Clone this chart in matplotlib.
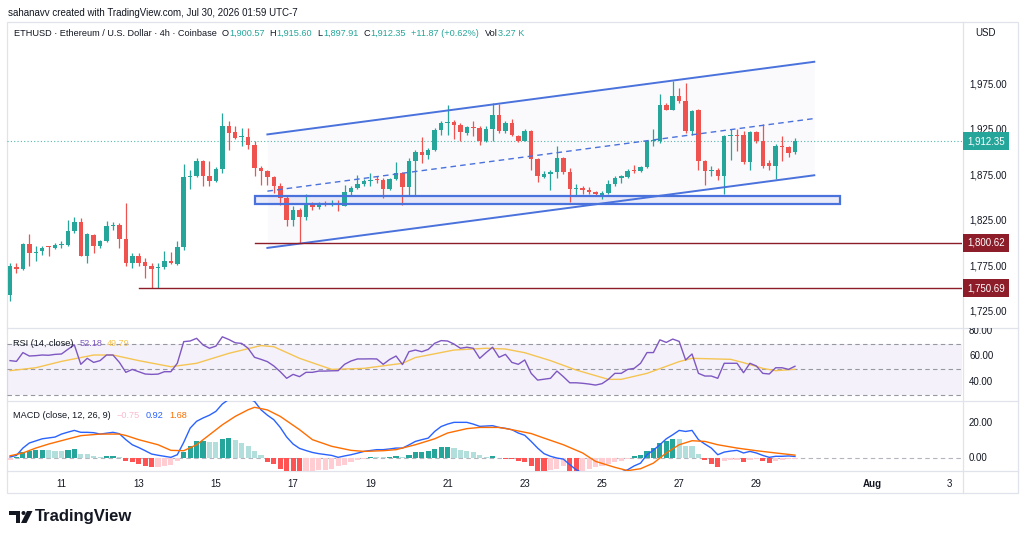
import numpy as np
import pandas as pd
import matplotlib
matplotlib.use("Agg")
import matplotlib.pyplot as plt
from matplotlib.patches import Rectangle, Polygon, Circle
from matplotlib.transforms import blended_transform_factory as blend, Bbox

plt.rcParams["font.family"] = ["Liberation Sans", "DejaVu Sans"]

W, H = 1024, 539

# ETHUSD 4h candles (Coinbase)
start = pd.Timestamp("2026-07-09 16:00")
opens = [
    1743.4, 1773.6, 1771.7, 1799.7, 1789.4, 1791.2, 1796.7, 1794.9, 1798.6, 1798.6,
    1813.3, 1823.2, 1786.4, 1809.6, 1796.7, 1802.2, 1819.5, 1819.9, 1805.2, 1778.3,
    1785.7, 1779.1, 1774.7, 1772.8, 1773.6, 1780.9, 1777.6, 1796.0, 1873.2, 1874.7,
    1890.5, 1874.7, 1868.4, 1882.4, 1929.8, 1922.4, 1916.9, 1917.3, 1908.1, 1883.1,
    1880.2, 1873.2, 1862.9, 1850.0, 1826.1, 1837.2, 1829.1, 1842.7, 1840.1, 1844.5,
    1842.7, 1843.4, 1841.6, 1856.6, 1861.1, 1865.5, 1868.4, 1871.0, 1869.5, 1860.0,
    1871.0, 1877.6, 1861.8, 1891.2, 1900.4, 1897.8, 1903.3, 1925.4, 1932.4, 1933.8,
    1930.2, 1921.7, 1928.3, 1926.9, 1912.5, 1926.1, 1941.9, 1923.6, 1932.7, 1918.7,
    1913.2, 1924.2, 1893.0, 1873.1, 1876.4, 1878.3, 1894.1, 1878.3, 1859.9, 1861.0,
    1859.2, 1856.6, 1853.7, 1855.5, 1865.4, 1872.0, 1872.8, 1881.2, 1880.1, 1883.8,
    1913.2, 1912.5, 1952.2, 1947.4, 1962.1, 1957.3, 1924.2, 1946.7, 1890.4, 1879.4,
    1881.2, 1873.9, 1918.0, 1919.8, 1919.8, 1889.3, 1922.4, 1912.5, 1888.6, 1884.9,
    1907.7, 1906.2, 1900.57]
highs = [
    1778.3, 1778.3, 1800.4, 1810.7, 1796.7, 1796.7, 1797.5, 1800.4, 1802.2, 1826.1,
    1828.7, 1828.0, 1811.4, 1810.7, 1804.1, 1825.0, 1823.2, 1822.5, 1844.5, 1789.4,
    1789.4, 1783.9, 1778.3, 1778.3, 1792.0, 1790.1, 1802.2, 1887.9, 1881.3, 1894.1,
    1892.3, 1890.5, 1884.2, 1943.8, 1934.6, 1929.1, 1927.2, 1927.2, 1912.5, 1885.0,
    1881.3, 1874.7, 1866.6, 1851.9, 1840.8, 1839.0, 1854.8, 1845.2, 1845.6, 1847.1,
    1848.2, 1848.2, 1864.7, 1863.6, 1875.8, 1871.0, 1877.6, 1874.7, 1872.1, 1872.1,
    1889.4, 1878.3, 1894.1, 1902.6, 1916.9, 1905.2, 1927.2, 1934.6, 1951.9, 1936.4,
    1932.7, 1929.8, 1934.6, 1929.8, 1929.1, 1954.1, 1953.0, 1934.6, 1937.2, 1919.8,
    1926.1, 1925.3, 1894.1, 1879.4, 1881.2, 1907.0, 1895.2, 1883.1, 1865.8, 1862.8,
    1862.1, 1858.1, 1857.3, 1870.2, 1873.9, 1875.7, 1882.0, 1886.7, 1884.9, 1914.3,
    1926.1, 1965.0, 1954.7, 1978.6, 1971.3, 1976.1, 1947.4, 1948.1, 1892.3, 1884.9,
    1883.1, 1919.8, 1926.1, 1926.1, 1923.5, 1923.5, 1923.5, 1931.6, 1892.3, 1909.9,
    1918.0, 1907.7, 1915.60]
lows = [
    1736.1, 1767.3, 1771.0, 1774.7, 1780.2, 1787.5, 1785.7, 1793.8, 1794.9, 1797.5,
    1811.4, 1785.7, 1778.3, 1789.4, 1794.9, 1801.1, 1815.1, 1794.9, 1774.7, 1772.8,
    1774.7, 1761.8, 1750.7, 1750.8, 1772.1, 1777.6, 1776.5, 1793.1, 1860.0, 1873.2,
    1863.6, 1862.9, 1867.3, 1877.6, 1902.6, 1914.4, 1907.0, 1904.1, 1873.9, 1864.7,
    1864.7, 1855.5, 1842.7, 1818.8, 1818.8, 1800.6, 1825.4, 1837.2, 1838.3, 1840.8,
    1840.8, 1835.3, 1840.8, 1853.7, 1860.0, 1863.6, 1862.9, 1866.6, 1850.0, 1859.2,
    1870.2, 1842.7, 1852.6, 1852.6, 1888.6, 1893.0, 1901.5, 1919.9, 1919.9, 1914.4,
    1912.5, 1919.9, 1918.0, 1908.8, 1911.4, 1912.5, 1921.7, 1921.7, 1918.0, 1911.4,
    1912.5, 1881.2, 1867.3, 1872.0, 1858.4, 1872.0, 1876.8, 1845.2, 1852.5, 1854.8,
    1854.8, 1852.5, 1848.9, 1854.8, 1863.6, 1866.5, 1871.7, 1877.5, 1878.6, 1882.7,
    1907.0, 1910.6, 1946.7, 1946.7, 1954.7, 1921.7, 1919.8, 1881.2, 1864.7, 1874.6,
    1869.5, 1854.8, 1891.5, 1901.4, 1887.8, 1881.2, 1910.6, 1883.1, 1881.2, 1871.0,
    1890.4, 1895.2, 1897.91]
closes = [
    1774.7, 1771.7, 1799.7, 1789.4, 1790.5, 1794.9, 1795.6, 1798.6, 1799.7, 1813.3,
    1823.2, 1786.4, 1810.7, 1797.5, 1802.2, 1819.5, 1820.6, 1804.8, 1778.3, 1785.7,
    1778.3, 1774.7, 1772.1, 1773.9, 1780.9, 1778.3, 1796.0, 1873.2, 1874.7, 1890.5,
    1874.7, 1868.4, 1882.4, 1929.8, 1921.7, 1916.2, 1917.7, 1908.1, 1883.1, 1880.2,
    1873.2, 1862.9, 1850.0, 1826.1, 1837.2, 1829.1, 1842.7, 1840.1, 1844.5, 1842.7,
    1843.4, 1841.9, 1856.6, 1861.1, 1865.5, 1868.4, 1870.2, 1869.5, 1860.0, 1871.0,
    1877.6, 1861.8, 1891.2, 1900.4, 1897.8, 1903.3, 1925.4, 1932.7, 1933.8, 1930.2,
    1922.4, 1928.3, 1926.9, 1912.5, 1926.1, 1941.9, 1923.6, 1932.7, 1919.9, 1913.2,
    1924.2, 1893.0, 1873.9, 1876.4, 1878.3, 1894.1, 1878.3, 1859.9, 1861.0, 1859.2,
    1856.6, 1854.4, 1855.5, 1865.4, 1872.0, 1873.9, 1880.1, 1880.1, 1883.8, 1913.2,
    1914.3, 1952.2, 1947.4, 1962.1, 1957.3, 1924.2, 1945.6, 1890.4, 1879.4, 1881.2,
    1873.9, 1918.0, 1919.8, 1918.7, 1889.3, 1922.4, 1912.5, 1884.9, 1884.9, 1907.7,
    1906.2, 1899.6, 1912.35]

# RSI(14) per candle and its moving average (read at its bends)
rsi = [
    56.6, 56.0, 62.9, 60.2, 60.5, 61.0, 60.8, 61.5, 61.8, 65.5,
    68.9, 53.7, 58.4, 55.2, 56.6, 61.0, 61.0, 55.2, 47.4, 49.7,
    47.9, 46.1, 45.8, 46.0, 47.9, 47.9, 54.5, 71.5, 72.0, 74.1,
    68.9, 66.3, 68.0, 75.3, 73.2, 70.6, 70.1, 66.3, 59.2, 57.6,
    55.8, 52.4, 47.9, 42.7, 45.8, 44.0, 47.4, 47.4, 48.4, 48.4,
    48.6, 48.7, 53.7, 56.3, 57.9, 57.9, 58.0, 57.9, 53.7, 57.5,
    60.2, 53.5, 63.6, 64.9, 63.6, 65.4, 70.2, 72.3, 72.0, 69.6,
    66.3, 67.1, 66.3, 58.4, 62.9, 67.1, 59.2, 61.5, 55.2, 53.7,
    57.1, 46.6, 41.3, 42.0, 42.7, 48.4, 44.0, 39.2, 39.2, 38.8,
    38.2, 37.4, 38.5, 41.9, 46.6, 46.6, 49.7, 50.5, 54.5, 62.9,
    62.9, 72.9, 70.9, 73.5, 71.7, 57.1, 61.8, 46.6, 44.5, 44.5,
    42.7, 54.5, 54.5, 54.5, 47.1, 54.5, 52.4, 46.6, 46.1, 51.0,
    51.0, 49.7, 52.18]
rsi_ma_idx = [0, 4, 8, 13, 16, 20, 25, 29, 34, 39, 41, 45, 50, 55, 61, 63,
              69, 74, 77, 80, 84, 88, 93, 95, 99, 104, 106, 112, 114, 117, 119, 122]
rsi_ma_val = [48.7, 51.0, 56.0, 61.0, 61.0, 56.6, 51.8, 54.5, 62.3, 68.4, 67.5, 58.4,
              49.7, 50.5, 54.5, 59.0, 64.9, 66.3, 65.7, 62.8, 56.6, 49.2, 41.9, 41.9,
              46.6, 55.8, 58.4, 57.6, 55.0, 50.5, 48.7, 49.79]

# MACD(12, 26, 9)
macd = [
    0.6, 1.5, 5.7, 8.6, 9.8, 11.0, 11.5, 12.0, 13.7, 14.8,
    15.8, 14.7, 14.7, 14.5, 13.7, 14.2, 14.7, 13.9, 10.5, 7.6,
    6.0, 4.2, 2.3, 1.6, 1.0, 0.4, 1.9, 9.0, 17.1, 21.0,
    22.9, 24.5, 26.7, 30.9, 33.5, 35.0, 35.5, 34.0, 32.4, 27.6,
    24.5, 21.9, 17.5, 12.0, 8.0, 5.5, 4.3, 3.2, 2.5, 2.0,
    1.5, 0.4, 1.2, 1.9, 2.8, 3.8, 4.3, 4.8, 4.8, 5.2,
    5.7, 5.7, 7.5, 9.5, 10.5, 11.4, 15.2, 18.0, 19.4, 20.4,
    20.4, 20.4, 19.4, 18.1, 18.3, 18.5, 17.5, 17.0, 16.2, 14.3,
    13.0, 9.5, 5.7, 2.5, 1.0, 0.0, -0.6, -3.8, -6.7, -8.5,
    -9.5, -10.0, -10.2, -10.0, -9.3, -8.0, -6.7, -4.5, -2.9, 1.9,
    4.5, 7.6, 11.0, 13.3, 15.8, 15.2, 15.8, 10.5, 8.0, 5.7,
    1.9, 3.4, 4.0, 4.4, 2.9, 3.8, 2.9, 1.5, 0.4, 1.0,
    1.0, 1.2, 0.92]
signal_idx = [0, 2, 4, 6, 9, 11, 14, 17, 18, 20, 23, 25, 27, 29, 31, 33, 35, 37, 38,
              40, 42, 45, 47, 50, 53, 55, 58, 60, 63, 66, 68, 71, 73, 76, 78, 81, 83,
              86, 89, 91, 94, 96, 98, 100, 102, 104, 106, 108, 110, 113, 116, 119, 122]
signal_val = [1.3, 2.9, 5.7, 8.0, 10.9, 12.8, 13.7, 13.7, 12.9, 10.5, 7.6, 4.4, 4.2,
              7.6, 13.3, 19.0, 23.8, 27.6, 29.0, 27.5, 23.8, 16.2, 10.5, 6.7, 4.4, 3.8,
              4.2, 4.8, 7.6, 11.0, 14.3, 16.8, 17.5, 17.5, 16.2, 14.0, 11.4, 7.6, 2.9,
              -1.9, -5.3, -7.2, -6.1, -2.9, 2.9, 7.6, 9.9, 9.5, 7.6, 5.7, 4.2, 2.9, 1.68]
hist = [
    -1.3, 0.8, 3.2, 4.2, 4.6, 4.8, 4.4, 4.2, 3.8, 4.8,
    5.1, 2.5, 2.3, 1.0, 0.6, 1.1, 1.3, 0.4, -1.9, -2.5,
    -3.2, -4.4, -5.3, -5.1, -4.6, -3.8, -1.9, 3.5, 6.7, 9.5,
    9.9, 9.0, 8.9, 11.0, 11.4, 10.1, 8.6, 6.7, 3.8, 1.5,
    -2.0, -3.6, -6.3, -7.8, -8.0, -8.2, -7.6, -7.2, -7.1, -6.7,
    -6.3, -4.8, -3.8, -2.3, -1.0, -0.4, 0.6, 0.55, 0.4, 0.8,
    1.3, 0.4, 1.9, 3.2, 3.3, 3.8, 5.1, 6.1, 6.3, 5.7,
    4.8, 4.2, 3.2, 1.5, 0.6, 1.0, 0.2, -0.6, -0.8, -1.5,
    -2.5, -4.3, -7.2, -8.0, -6.7, -6.1, -4.8, -7.6, -8.0, -7.2,
    -6.3, -5.3, -4.4, -3.4, -2.5, -1.5, -0.6, 1.0, 1.9, 4.2,
    5.7, 8.6, 9.9, 11.0, 10.9, 7.0, 6.8, 2.5, -1.1, -3.2,
    -5.3, -1.5, -1.1, -1.0, -2.5, -1.0, -0.6, -1.9, -3.0, -1.5,
    -1.0, -0.8, -0.75]

# drawings on the chart
channel_t = ["2026-07-16 08:00", "2026-07-30 12:00"]
channel_upper = [1920.0, 2000.0]
channel_mid = [1857.5, 1937.5]
channel_lower = [1795.0, 1875.0]
zone_t = ["2026-07-16 00:00", "2026-07-31 04:00"]
zone_low, zone_high = 1843.4, 1851.9
levels = [1800.62, 1750.69]
level_start = ["2026-07-16 00:00", "2026-07-13 00:00"]

price_ticks = [1975, 1925, 1875, 1825, 1775, 1725]
rsi_ticks = [80, 60, 40]
macd_ticks = [20, 0]
date_ticks = ["2026-07-11", "2026-07-13", "2026-07-15", "2026-07-17", "2026-07-19",
              "2026-07-21", "2026-07-23", "2026-07-25", "2026-07-27", "2026-07-29",
              "2026-08-01", "2026-08-03"]
date_labels = ["11", "13", "15", "17", "19", "21", "23", "25", "27", "29", "Aug", "3"]

GREEN, RED = "#26a69a", "#ef5350"
BLUE_DRAW = "#4a72dc"
LEVEL = "#8e1d2a"
TXT = "#131722"
GRID = "#e0e3eb"
PURPLE, YELLOW = "#7e57c2", "#f5c452"
MACD_BLUE, MACD_ORANGE = "#2962ff", "#ff6d00"
FS = 7
LEG_FS = 6.6


def to_idx(ts):
    return (pd.Timestamp(ts) - start) / pd.Timedelta(hours=4)


def px_rect(x0, y0, x1, y1):
    return [x0 / W, 1 - y1 / H, (x1 - x0) / W, (y1 - y0) / H]


fig = plt.figure(figsize=(W / 100, H / 100), dpi=100)
fig.patch.set_facecolor("white")
renderer = fig.canvas.get_renderer()

# pixel-space background layer (frame, separators)
bg = fig.add_axes([0, 0, 1, 1], zorder=0)
bg.set_xlim(0, W)
bg.set_ylim(H, 0)
bg.axis("off")
bg.add_patch(Rectangle((7, 22), 1011, 471, fill=False, ec=GRID, lw=0.9))
bg.plot([962.5, 962.5], [22, 493], color=GRID, lw=0.9)
for yy in (328, 401, 471):
    bg.plot([7, 1018], [yy, yy], color=GRID, lw=0.9)

CH_L, CH_R = 7, 962
xlim = (-0.47, 147.96)
ax = fig.add_axes(px_rect(CH_L, 22, CH_R, 328), zorder=2)
ax_rsi = fig.add_axes(px_rect(CH_L, 328, CH_R, 401), zorder=2)
ax_macd = fig.add_axes(px_rect(CH_L, 401, CH_R, 471), zorder=2)
for a in (ax, ax_rsi, ax_macd):
    a.set_facecolor("none")
    a.set_xlim(*xlim)
    a.set_xticks([])
    a.set_yticks([])
    for s in a.spines.values():
        s.set_visible(False)
ax.set_ylim(1706.8, 2043.8)
ax_rsi.set_ylim(24.9, 82.2)
ax_macd.set_ylim(-7.4, 32.6)

x_lab = (969 - CH_L) / (CH_R - CH_L)
x_tag = (967 - CH_L) / (CH_R - CH_L)

# ---- main pane ----
o, h, l, c = map(np.array, (opens, highs, lows, closes))
idx = np.arange(len(c))
cols = np.where(c >= o, GREEN, RED)
ax.vlines(idx, l, h, colors=cols, lw=0.9, zorder=3)
ax.bar(idx, np.maximum(np.abs(c - o), 0.9), bottom=np.minimum(o, c), width=0.7,
       color=cols, lw=0, zorder=4)

cx = [to_idx(t) for t in channel_t]
ax.fill_between(cx, channel_lower, channel_upper, color=PURPLE, alpha=0.035, lw=0, zorder=1)
ax.plot(cx, channel_upper, color=BLUE_DRAW, lw=1.4, zorder=5)
ax.plot(cx, channel_lower, color=BLUE_DRAW, lw=1.4, zorder=5)
ax.plot(cx, channel_mid, color=BLUE_DRAW, lw=1.0, ls=(0, (4, 3)), zorder=5)

zx = [to_idx(t) for t in zone_t]
ax.add_patch(Rectangle((zx[0], zone_low), zx[1] - zx[0], zone_high - zone_low,
                       fc="#6a6fd8", alpha=0.13, ec="none", zorder=2))
ax.add_patch(Rectangle((zx[0], zone_low), zx[1] - zx[0], zone_high - zone_low,
                       fill=False, ec=BLUE_DRAW, lw=1.6, zorder=5))

for lv, ls_ in zip(levels, level_start):
    ax.plot([to_idx(ls_), xlim[1]], [lv, lv], color=LEVEL, lw=1.0, zorder=5)

ax.axhline(closes[-1], color=GREEN, lw=0.8, ls=(0, (1, 2)), alpha=0.8, zorder=2)

tr = blend(ax.transAxes, ax.transData)
for p in price_ticks:
    ax.text(x_lab, p, f"{p:,.2f}", transform=tr, ha="left", va="center",
            fontsize=FS, color=TXT, clip_on=False)
tags = [(closes[-1], GREEN)] + [(lv, LEVEL) for lv in levels]
for val, colr in tags:
    ax.text(x_tag, val, f"{val:,.2f}", transform=tr, ha="left", va="center",
            fontsize=FS, color="white", clip_on=False, zorder=10,
            bbox=dict(boxstyle="square,pad=0.4", fc=colr, ec="none"))

# ---- RSI pane ----
ax_rsi.axhspan(30, 70, color=PURPLE, alpha=0.08, lw=0)
for lv in (70, 50, 30):
    ax_rsi.axhline(lv, color="#9598a1", lw=0.8, ls=(0, (4, 3)))
ax_rsi.plot(idx, rsi, color=PURPLE, lw=1.0, zorder=3)
ax_rsi.plot(rsi_ma_idx, rsi_ma_val, color=YELLOW, lw=1.0, zorder=2)
tr = blend(ax_rsi.transAxes, ax_rsi.transData)
# the top label is cut by the pane border, as in the screenshot
rsi_clip = Bbox([[0, H - 401], [W, H - 328]])
for v in rsi_ticks:
    t = ax_rsi.text(x_lab, v, f"{v:.2f}", transform=tr, ha="left", va="center",
                    fontsize=FS, color=TXT, clip_on=True)
    t.set_clip_box(rsi_clip)

# ---- MACD pane ----
hcols = []
for k, v in enumerate(hist):
    prev = hist[k - 1] if k else v
    if v >= 0:
        hcols.append("#26a69a" if v > prev else "#b2dfdb")
    else:
        hcols.append("#ff5252" if v < prev else "#ffcdd2")
ax_macd.axhline(0, color="#b2b5be", lw=0.8, ls=(0, (4, 3)), zorder=1)
ax_macd.bar(idx, hist, width=0.8, color=hcols, lw=0, zorder=2)
ax_macd.plot(idx, macd, color=MACD_BLUE, lw=1.0, zorder=3)
ax_macd.plot(signal_idx, signal_val, color=MACD_ORANGE, lw=1.0, zorder=3)
tr = blend(ax_macd.transAxes, ax_macd.transData)
for v in macd_ticks:
    ax_macd.text(x_lab, v, f"{v:.2f}", transform=tr, ha="left", va="center",
                 fontsize=FS, color=TXT, clip_on=False)

# time axis
tr = blend(ax_macd.transData, ax_macd.transAxes)
for d, lab in zip(date_ticks, date_labels):
    ax_macd.text(to_idx(d), -13 / 70, lab, transform=tr, ha="center", va="center",
                 fontsize=FS, color=TXT, clip_on=False,
                 fontweight="bold" if lab == "Aug" else "normal")

# ---- text layer ----
fg = fig.add_axes([0, 0, 1, 1], zorder=5)
fg.set_xlim(0, W)
fg.set_ylim(H, 0)
fg.axis("off")


def text_run(x, y, parts, fs=LEG_FS):
    # place coloured pieces one after another: (text, colour, gap after)
    for s, colr, gap in parts:
        t = fg.text(x, y, s, fontsize=fs, color=colr, va="center")
        x += t.get_window_extent(renderer=renderer).width + gap


fg.text(8, 13.5, "sahanavv created with TradingView.com, Jul 30, 2026 01:59 UTC-7",
        fontsize=FS, color=TXT, va="center")
text_run(13.5, 33, [("ETHUSD · Ethereum / U.S. Dollar · 4h · Coinbase", TXT, 5),
                    ("O", TXT, 0.5), ("1,900.57", GREEN, 5),
                    ("H", TXT, 0.5), ("1,915.60", GREEN, 5),
                    ("L", TXT, 0.5), ("1,897.91", GREEN, 5),
                    ("C", TXT, 0.5), ("1,912.35", GREEN, 5),
                    ("+11.87 (+0.62%)", GREEN, 6),
                    ("Vol", TXT, 0.5), ("3.27 K", GREEN, 0)])
fg.text(975, 33, "USD", fontsize=FS, color=TXT, va="center")
text_run(13, 343.5, [("RSI (14, close)", TXT, 6), ("52.18", PURPLE, 5), ("49.79", YELLOW, 0)])
text_run(13, 415, [("MACD (close, 12, 26, 9)", TXT, 6), ("\u22120.75", "#f8bbd0", 6),
                   ("0.92", MACD_BLUE, 6), ("1.68", MACD_ORANGE, 0)])

# TradingView logo
fg.add_patch(Polygon([(9, 511), (20, 511), (20, 523), (15.5, 523), (15.5, 515), (9, 515)],
                     closed=True, fc=TXT, ec="none"))
fg.add_patch(Circle((23.5, 513), 2.0, fc=TXT, ec="none"))
fg.add_patch(Polygon([(27, 511), (32.5, 511), (26.5, 523), (21, 523)], closed=True,
                     fc=TXT, ec="none"))
fg.text(35, 517, "TradingView", fontsize=12, fontweight="bold", color=TXT, va="center")

fig.savefig("out.png", dpi=100, facecolor="white")
